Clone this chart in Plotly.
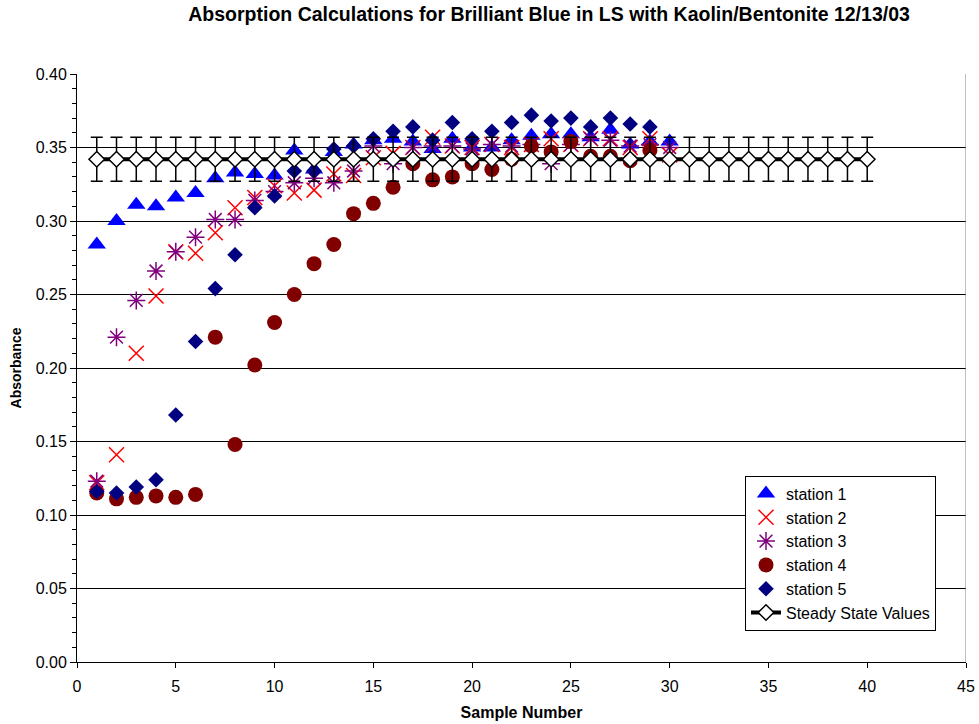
import plotly.graph_objects as go

# ---- data ----
sample_1_30 = list(range(1, 31))
sample_1_29 = list(range(1, 30))
sample_ss = list(range(1, 41))

station1 = [0.284, 0.300, 0.311, 0.310, 0.316, 0.319, 0.329, 0.333, 0.332, 0.331,
            0.348, 0.335, 0.347, 0.352, 0.355, 0.356, 0.354, 0.349, 0.356, 0.350,
            0.350, 0.355, 0.358, 0.359, 0.359, 0.357, 0.362, 0.352, 0.354, 0.354]
station2 = [0.122, 0.141, 0.210, 0.249, 0.279, 0.278, 0.292, 0.309, 0.316, 0.324,
            0.319, 0.321, 0.332, 0.331, 0.343, 0.346, 0.350, 0.357, 0.351, 0.350,
            0.352, 0.350, 0.352, 0.356, 0.352, 0.356, 0.356, 0.350, 0.356, 0.345]
station3 = [0.123, 0.221, 0.246, 0.266, 0.279, 0.289, 0.301, 0.301, 0.314, 0.320,
            0.326, 0.329, 0.326, 0.334, 0.351, 0.339, 0.350, 0.351, 0.351, 0.349,
            0.352, 0.351, 0.352, 0.339, 0.352, 0.356, 0.355, 0.351, 0.352, 0.350]
station4 = [0.115, 0.111, 0.112, 0.113, 0.112, 0.114, 0.221, 0.148, 0.202, 0.231,
            0.250, 0.271, 0.284, 0.305, 0.312, 0.323, 0.339, 0.328, 0.330, 0.339,
            0.335, 0.342, 0.351, 0.347, 0.354, 0.344, 0.344, 0.341, 0.348]
station5 = [0.116, 0.115, 0.119, 0.124, 0.168, 0.218, 0.254, 0.277, 0.309, 0.317,
            0.334, 0.334, 0.349, 0.351, 0.356, 0.361, 0.364, 0.355, 0.367, 0.356,
            0.361, 0.367, 0.372, 0.368, 0.370, 0.364, 0.370, 0.366, 0.364]
steady_value = 0.342
steady_error = 0.015
steady_state = [steady_value] * len(sample_ss)
steady_err = [steady_error] * len(sample_ss)

FONT = "Liberation Sans, Arial, sans-serif"

fig = go.Figure()
fig.add_trace(go.Scatter(x=sample_1_30, y=station1, mode="markers", name="station 1",
                         marker=dict(symbol="triangle-up", size=16, color="#0000FF")))
fig.add_trace(go.Scatter(x=sample_1_30, y=station2, mode="markers", name="station 2",
                         marker=dict(symbol="x-thin-open", size=15, color="#FF0000",
                                     line=dict(width=1.5, color="#FF0000"))))
fig.add_trace(go.Scatter(x=sample_1_30, y=station3, mode="markers", name="station 3",
                         marker=dict(symbol="asterisk-open", size=15, color="#800080",
                                     line=dict(width=1.5, color="#800080"))))
fig.add_trace(go.Scatter(x=sample_1_29, y=station4, mode="markers", name="station 4",
                         marker=dict(symbol="circle", size=15, color="#800000")))
fig.add_trace(go.Scatter(x=sample_1_29, y=station5, mode="markers", name="station 5",
                         marker=dict(symbol="diamond", size=12, color="#000080")))
fig.add_trace(go.Scatter(x=sample_ss, y=steady_state, mode="lines+markers",
                         name="Steady State Values",
                         line=dict(color="black", width=4),
                         marker=dict(symbol="diamond", size=12, color="white",
                                     line=dict(color="black", width=1.5)),
                         error_y=dict(type="data", array=steady_err, symmetric=True,
                                      color="black", thickness=1.5, width=6)))

fig.add_shape(type="line", xref="x", yref="paper", x0=45, x1=45, y0=0, y1=1,
              line=dict(color="#808080", width=1))

fig.update_layout(
    width=979, height=724,
    margin=dict(l=77, r=13, t=74, b=62, autoexpand=False),
    paper_bgcolor="white", plot_bgcolor="white",
    font=dict(family=FONT, size=15, color="black"),
    title=dict(text="<b>Absorption Calculations for Brilliant Blue in LS with Kaolin/Bentonite 12/13/03</b>",
               x=0.531, xref="paper", xanchor="center", y=0.981, yanchor="middle",
               font=dict(size=19.5, family=FONT, color="black")),
    showlegend=True,
    legend=dict(x=0.7514, y=0.317, xanchor="left", yanchor="top",
                bgcolor="white", bordercolor="black", borderwidth=1,
                font=dict(size=16, family=FONT, color="black"),
                tracegroupgap=0),
    xaxis=dict(range=[0, 45], tick0=0, dtick=5, showgrid=False, zeroline=False,
               showline=True, linecolor="black", linewidth=1, automargin=False,
               ticks="outside", ticklen=5, tickcolor="black",
               tickfont=dict(size=16), ticklabelstandoff=5,
               title=dict(text="<b>Sample Number</b>", font=dict(size=16), standoff=12)),
    yaxis=dict(range=[0, 0.40], tick0=0, dtick=0.05, tickformat=".2f",
               showgrid=True, gridcolor="black", gridwidth=1, zeroline=False,
               showline=True, linecolor="black", linewidth=1, automargin=False,
               ticks="outside", ticklen=6, tickcolor="black",
               tickfont=dict(size=16),
               minor=dict(dtick=0.01, ticks="outside", ticklen=4, tickcolor="black", showgrid=False),
               title=dict(text="<b>Absorbance</b>", font=dict(size=14), standoff=10)),
)

fig.write_html("out.html")
